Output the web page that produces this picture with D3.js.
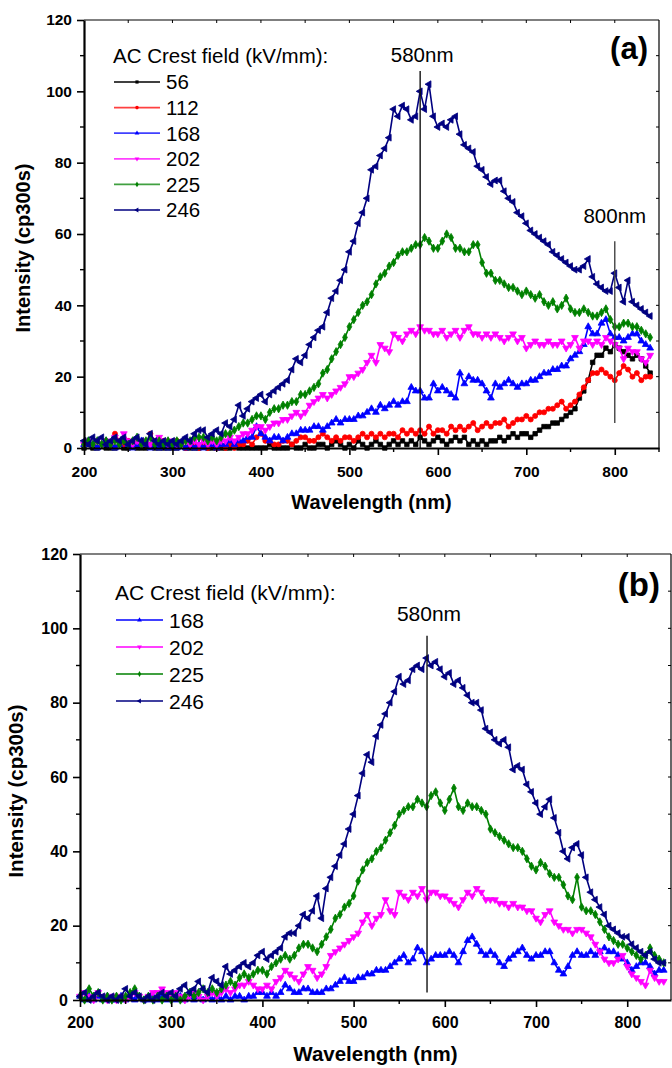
<!DOCTYPE html>
<html><head><meta charset="utf-8">
<script src="https://cdn.jsdelivr.net/npm/d3@7"></script>
<style>body{margin:0;background:#fff} svg text{font-family:"Liberation Sans",Arial,sans-serif;fill:#000}</style>
</head><body><svg id="c" width="672" height="1068"></svg>
<script>
// ---------- DATA ----------
const wavelengths = d3.range(200, 841, 5); // nm, 200..840
const xTicks = [200, 300, 400, 500, 600, 700, 800];
const yTicks = [0, 20, 40, 60, 80, 100, 120];
const legendTitle = "AC Crest field (kV/mm):";
const fieldsA = ["56", "112", "168", "202", "225", "246"];
const fieldsB = ["168", "202", "225", "246"];

// Panel (a)
const a56 = [0,1,0,0,1,0,0,0,1,0,0,1,0,0,0,1,0,0,0,0,
  0,0,1,0,0,0,0,1,0,0,0,0,0,0,1,0,0,0,0,0,
  0,0,1,0,0,0,0,1,0,0,1,0,0,1,1,0,1,2,1,0,
  1,0,2,1,0,1,2,1,0,1,2,1,2,1,2,1,3,2,1,2,
  3,2,1,2,3,2,3,1,2,1,2,1,2,2,3,2,3,4,3,4,
  4,3,4,5,6,6,7,7,8,9,10,11,14,16,19,24,26,26,28,27,
  29,28,27,26,25,26,25,23,21];
const a112 = [1,2,1,2,1,2,1,4,2,1,2,1,2,1,1,4,2,1,2,1,
  1,2,1,0,1,1,0,1,0,1,0,1,0,1,0,1,1,2,1,3,
  4,2,2,1,1,2,2,1,2,3,3,2,2,3,4,3,2,3,2,3,
  3,2,3,4,3,4,3,4,3,4,4,3,5,4,5,4,5,4,6,4,
  5,5,4,6,5,6,5,6,7,5,6,7,6,7,7,8,6,7,8,8,
  9,8,9,10,10,11,11,12,13,11,12,13,15,17,19,21,21,22,21,20,
  19,21,23,22,20,21,19,20,20];
const a168 = [1,2,1,0,1,2,1,0,1,2,1,0,1,2,1,0,1,0,1,0,
  1,0,1,0,1,0,1,0,1,1,0,1,1,2,1,2,2,3,3,6,
  4,3,2,3,3,2,3,4,4,5,5,5,6,6,5,6,7,8,7,8,
  8,8,9,9,10,11,10,12,11,12,13,12,13,13,17,16,16,14,14,18,
  16,17,16,15,14,21,18,20,19,19,18,16,14,18,17,18,19,18,17,18,
  18,19,19,20,21,21,22,22,23,23,25,26,27,29,34,32,32,35,36,32,
  31,31,30,31,32,32,30,29,28];
const a202 = [1,2,1,2,1,2,1,3,2,4,2,1,2,1,2,1,2,3,2,1,
  2,1,1,2,1,2,1,2,1,2,1,2,2,3,2,3,4,4,5,6,
  6,5,6,7,7,8,8,9,10,9,10,12,13,14,15,14,15,16,17,18,
  20,20,21,22,24,26,24,29,28,27,32,31,30,32,33,32,34,33,33,32,
  32,33,31,32,33,31,33,34,32,32,31,32,31,32,31,30,31,32,30,31,
  28,29,30,29,29,30,29,29,30,28,29,31,28,30,30,29,30,29,31,30,
  29,28,25,28,27,27,25,24,26];
const a225 = [1,2,1,2,1,2,1,2,1,2,1,2,3,1,2,3,1,2,1,2,
  1,2,1,2,2,3,3,3,2,3,2,3,4,4,5,6,7,7,8,9,
  9,8,10,11,11,12,12,13,13,15,15,16,17,18,21,22,25,27,29,31,
  34,36,38,40,41,43,46,48,49,51,52,54,55,55,56,57,57,59,58,56,
  56,58,60,59,56,56,55,55,57,57,52,49,49,47,47,46,45,45,44,43,
  44,43,42,43,41,40,41,39,40,42,39,38,38,39,38,37,37,38,39,36,
  34,34,35,35,34,34,33,32,31];
const a246 = [2,1,3,2,3,1,2,3,2,3,1,2,3,2,1,4,2,1,2,1,
  2,1,2,3,2,4,5,5,3,4,5,4,7,6,8,12,9,11,13,14,
  15,13,15,16,17,18,19,22,25,24,26,29,31,33,34,38,42,44,47,50,
  55,58,63,66,70,78,79,82,84,87,95,93,96,95,92,93,100,95,102,93,
  90,91,90,92,93,88,85,84,83,79,78,76,74,75,75,72,70,69,66,65,
  63,61,60,59,58,57,55,54,53,52,51,50,50,51,53,48,46,45,44,44,
  49,45,41,47,41,40,39,38,37];

// Panel (b)
const b168 = [1,0,1,0,1,0,1,0,0,1,0,1,0,1,0,0,1,0,1,0,
  1,0,1,0,1,0,1,0,1,0,1,0,1,0,1,1,0,1,1,2,
  2,1,2,1,2,4,3,2,2,3,3,2,2,2,3,3,4,5,6,5,
  5,6,6,7,7,8,8,8,9,10,11,12,10,11,14,13,10,11,12,12,
  12,13,12,10,13,16,17,15,13,12,13,12,10,9,11,12,13,14,12,11,
  12,12,13,13,10,8,7,9,12,13,12,12,13,12,13,14,13,13,12,11,
  10,8,9,10,10,9,7,8,8];
const b202 = [1,2,1,0,2,1,0,1,0,1,0,1,2,1,0,1,2,2,3,2,
  1,2,1,0,1,2,1,0,1,2,1,2,3,2,3,4,4,5,4,3,
  3,4,3,5,6,8,7,6,5,7,9,8,6,7,9,12,13,14,15,16,
  17,18,21,23,20,22,23,27,24,23,29,28,27,29,28,30,27,29,29,28,
  28,27,26,25,27,29,28,30,29,27,27,27,26,26,25,26,25,25,24,24,
  22,21,23,24,21,20,19,19,18,19,19,18,17,15,13,11,10,10,11,12,
  9,7,6,5,4,8,6,5,5];
const b225 = [1,0,3,1,2,0,1,0,1,0,1,2,3,1,0,1,0,1,0,1,
  0,1,0,1,2,1,2,3,2,3,2,3,4,5,4,6,7,6,7,8,
  8,7,9,10,11,12,11,12,14,15,15,14,13,15,17,19,22,23,25,26,
  28,32,35,37,38,40,41,43,45,47,50,51,52,52,54,53,52,55,56,53,
  51,54,57,52,51,53,52,52,51,50,46,45,44,43,42,41,41,40,38,36,
  35,37,36,34,33,33,31,28,27,33,25,24,24,23,21,19,17,16,15,15,
  14,13,12,11,12,14,12,11,10];
const b246 = [1,2,0,1,2,1,0,1,0,1,3,1,2,1,0,1,0,1,2,1,
  2,1,3,4,2,3,5,3,2,6,5,4,9,7,8,9,10,9,10,12,
  13,11,12,13,14,17,18,18,20,23,22,24,28,22,30,33,36,39,42,46,
  50,55,61,66,64,71,74,77,80,83,87,85,86,89,90,89,92,90,91,89,
  87,88,85,86,84,82,80,80,78,73,72,70,69,70,68,62,63,62,58,56,
  53,50,52,54,49,45,40,38,41,42,39,33,29,27,25,23,20,19,18,17,
  17,15,14,13,12,13,11,10,10];

// Annotations: [wavelength, from, to, label]
const annotA = [[580, 0, 105.7, "580nm"], [800, 7, 58, "800nm"]];
const annotB = [[580.5, 2, 98, "580nm"]];

// ---------- STYLE ----------
const colors = {"56":"#000000","112":"#ff0000","168":"#0000ff","202":"#ff00ff","225":"#008000","246":"#000080"};
const shapes = {
  "56": [d3.symbolSquare, 0], "112": [d3.symbolCircle, 0], "168": [d3.symbolTriangle, 0],
  "202": [d3.symbolTriangle, 180], "225": [d3.symbolDiamond, 0], "246": [d3.symbolTriangle, -90]
};

const svg = d3.select("#c");

function drawPanel(p) {
  const g = svg.append("g");
  const x = d3.scaleLinear().domain(p.xDomain).range([p.left, p.right]);
  const y = d3.scaleLinear().domain([0, 120]).range([p.bottom, p.top]);

  // frame top/right
  g.append("line").attr("x1", p.left).attr("x2", p.right).attr("y1", p.top).attr("y2", p.top)
    .attr("stroke", "#000").attr("stroke-width", 1.2);
  g.append("line").attr("x1", p.right).attr("x2", p.right).attr("y1", p.top).attr("y2", p.bottom)
    .attr("stroke", "#000").attr("stroke-width", 1.2);
  d3.range(250, 850, 50).filter(v => v < p.xDomain[1]).forEach(v => {
    g.append("line").attr("x1", x(v)).attr("x2", x(v)).attr("y1", p.top).attr("y2", p.top + 3)
      .attr("stroke", "#000").attr("stroke-width", 1);
  });
  d3.range(10, 120, 10).forEach(v => {
    g.append("line").attr("x1", p.right).attr("x2", p.right - 3).attr("y1", y(v)).attr("y2", y(v))
      .attr("stroke", "#000").attr("stroke-width", 1);
  });

  // series
  p.series.forEach(sr => {
    const col = colors[sr.key];
    const pts = wavelengths.map((w, i) => [w, sr.values[i]]).filter(d => d[1] !== undefined);
    g.append("path").datum(pts)
      .attr("d", d3.line().x(d => x(d[0])).y(d => y(d[1])))
      .attr("fill", "none").attr("stroke", col).attr("stroke-width", 1.6);
    const [sym, rot] = shapes[sr.key];
    const sp = d3.symbol().type(sym).size(20)();
    g.append("g").selectAll("path").data(pts).join("path")
      .attr("transform", d => `translate(${x(d[0])},${y(d[1])}) rotate(${rot})`)
      .attr("d", sp).attr("fill", col).attr("stroke", col).attr("stroke-width", 0.8);
  });

  // left axis
  const ax = g.append("g").attr("transform", `translate(${p.left},0)`)
    .call(d3.axisLeft(y).tickValues(yTicks).tickSize(7).tickSizeOuter(0).tickFormat(d3.format("d")));
  ax.attr("font-family", null).attr("font-size", null);
  ax.select(".domain").attr("stroke-width", 2.2);
  ax.selectAll(".tick line").attr("stroke-width", 1.6);
  ax.selectAll(".tick text").attr("x", -12).attr("font-size", p.tickFont).attr("font-weight", "bold");
  d3.range(10, 120, 20).forEach(v => {
    g.append("line").attr("x1", p.left - 4).attr("x2", p.left).attr("y1", y(v)).attr("y2", y(v))
      .attr("stroke", "#000").attr("stroke-width", 1.4);
  });

  // bottom axis
  const bx = g.append("g").attr("transform", `translate(0,${p.bottom})`)
    .call(d3.axisBottom(x).tickValues(xTicks).tickSize(7).tickSizeOuter(0).tickFormat(d3.format("d")));
  bx.attr("font-family", null).attr("font-size", null);
  bx.select(".domain").attr("stroke-width", 2.2);
  bx.selectAll(".tick line").attr("stroke-width", 1.6);
  bx.selectAll(".tick text").attr("y", p.xLabelOff).attr("dy", "0").attr("font-size", p.tickFont).attr("font-weight", "bold");
  d3.range(250, 851, 100).filter(v => v <= p.xDomain[1]).forEach(v => {
    g.append("line").attr("x1", x(v)).attr("x2", x(v)).attr("y1", p.bottom).attr("y2", p.bottom + 4)
      .attr("stroke", "#000").attr("stroke-width", 1.4);
  });

  // axis titles
  g.append("text").attr("x", (p.left + p.right) / 2).attr("y", p.xTitleY)
    .attr("text-anchor", "middle").attr("font-weight", "bold").attr("font-size", p.titleFont)
    .text("Wavelength (nm)");
  g.append("text").attr("transform", `translate(${p.yTitleX},${p.yTitleCY}) rotate(-90)`)
    .attr("text-anchor", "middle").attr("font-weight", "bold").attr("font-size", p.titleFont)
    .text("Intensity (cp300s)");

  // annotations
  p.annot.forEach((a, i) => {
    g.append("line").attr("x1", x(a[0])).attr("x2", x(a[0])).attr("y1", y(a[1])).attr("y2", y(a[2]))
      .attr("stroke", i === 0 ? "#111" : "#444").attr("stroke-width", 1.4);
    g.append("text").attr("x", x(a[0]) + p.annotDx[i]).attr("y", p.annotY[i])
      .attr("text-anchor", "middle").attr("font-size", p.legFont).text(a[3]);
  });
  g.append("text").attr("x", p.tagX).attr("y", p.tagY).attr("text-anchor", "end")
    .attr("font-weight", "bold").attr("font-size", p.tagFont).text(p.tag);

  // legend
  const lg = g.append("g");
  lg.append("text").attr("x", p.legX).attr("y", p.legTitleY).attr("font-size", p.legFont).text(legendTitle);
  p.series.forEach((sr, i) => {
    const col = colors[sr.key];
    const cy = p.legY0 + i * p.legStep;
    lg.append("line").attr("x1", p.legX + 1).attr("x2", p.legX + 1 + p.legLen).attr("y1", cy).attr("y2", cy)
      .attr("stroke", col).attr("stroke-width", 1.8).attr("stroke-opacity", 0.75);
    const [sym, rot] = shapes[sr.key];
    lg.append("path").attr("transform", `translate(${p.legX + 1 + p.legLen / 2},${cy}) rotate(${rot})`)
      .attr("d", d3.symbol().type(sym).size(10)()).attr("fill", col);
    lg.append("text").attr("x", p.legX + p.legLen + 7).attr("y", cy).attr("dy", "0.36em")
      .attr("font-size", p.legFont).text(sr.key);
  });
}

drawPanel({
  left: 84, right: 659, top: 20, bottom: 448, xDomain: [200, 850],
  tickFont: 15.5, titleFont: 20, legFont: 20.5, tagFont: 31,
  xLabelOff: 29, xTitleY: 509, yTitleX: 30, yTitleCY: 248,
  series: [{key:"56",values:a56},{key:"112",values:a112},{key:"168",values:a168},
           {key:"202",values:a202},{key:"225",values:a225},{key:"246",values:a246}],
  annot: annotA, annotDx: [2, 0], annotY: [62, 223],
  tag: "(a)", tagX: 648, tagY: 59,
  legX: 113, legTitleY: 63, legY0: 82, legStep: 25.6, legLen: 46
});

drawPanel({
  left: 80, right: 671, top: 554, bottom: 1000, xDomain: [200, 848],
  tickFont: 16, titleFont: 20.5, legFont: 21, tagFont: 33,
  xLabelOff: 28, xTitleY: 1061, yTitleX: 23, yTitleCY: 791,
  series: [{key:"168",values:b168},{key:"202",values:b202},{key:"225",values:b225},{key:"246",values:b246}],
  annot: annotB, annotDx: [2], annotY: [621],
  tag: "(b)", tagX: 660, tagY: 596,
  legX: 115, legTitleY: 600, legY0: 620, legStep: 27, legLen: 47
});
</script></body></html>
